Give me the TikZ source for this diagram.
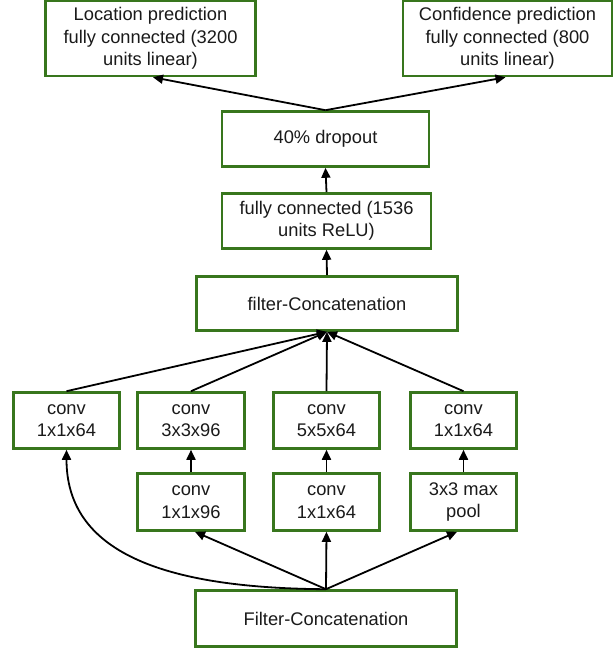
\documentclass[tikz,border=0pt]{standalone}
\usepackage{fontspec}
\setmainfont{Liberation Sans}
\usetikzlibrary{arrows.meta}
\definecolor{boxgreen}{HTML}{38761D}
\definecolor{txt}{HTML}{1A1A1A}
\begin{document}
\begin{tikzpicture}[x=1pt,y=-1pt,
  box/.style={draw=boxgreen, line width=2.6pt, fill=white, align=center, inner sep=0pt,
    text=txt, font=\fontsize{18.3}{22.5}\selectfont},
  arr/.style={line width=1.8pt, -{Triangle[length=10pt,width=9pt]}}]
\useasboundingbox (0,0) rectangle (615,649);
% nodes
\node[box, minimum width=210pt, minimum height=75pt] (loc) at (150.5,38.5) {Location prediction\\fully connected (3200\\units linear)};
\node[box, minimum width=209pt, minimum height=75pt] (conf) at (507.5,38.5) {Confidence prediction\\fully connected (800\\units linear)};
\node[box, minimum width=207pt, minimum height=55pt] (drop) at (325.5,139) {40\% dropout};
\node[box, minimum width=209pt, minimum height=55pt] (fc) at (326.5,221) {fully connected (1536\\units ReLU)};
\node[box, minimum width=261pt, minimum height=54pt] (fcat) at (327,303.5) {filter-Concatenation};
\node[box, minimum width=106pt, minimum height=56pt] (c1) at (66.5,420.5) {conv\\1x1x64};
\node[box, minimum width=107pt, minimum height=56pt] (c2) at (191,420.5) {conv\\3x3x96};
\node[box, minimum width=106pt, minimum height=56pt] (c3) at (326.5,420.5) {conv\\5x5x64};
\node[box, minimum width=106pt, minimum height=56pt] (c4) at (463.5,420.5) {conv\\1x1x64};
\node[box, minimum width=107pt, minimum height=57pt] (c2b) at (191,502) {conv\\1x1x96};
\node[box, minimum width=106pt, minimum height=57pt] (c3b) at (326.5,502) {conv\\1x1x64};
\node[box, minimum width=106pt, minimum height=57pt] (c4b) at (463.5,502) {3x3 max\\pool};
\node[box, minimum width=261pt, minimum height=56pt] (bot) at (326,618.5) {Filter-Concatenation};
% connectors
\draw[arr] (drop.north) -- ([xshift=2.5pt]loc.south);
\draw[arr] (drop.north) -- ([xshift=-2pt]conf.south);
\draw[arr] (fc.north) -- (drop.south);
\draw[arr] (fcat.north) -- (fc.south);
\draw[arr] (c1.north) -- (fcat.south);
\draw[arr] (c2.north) -- (fcat.south);
\draw[arr] (c3.north) -- (fcat.south);
\draw[arr] (c4.north) -- (fcat.south);
\draw[arr] (c2b.north) -- (c2.south);
\draw[arr] (c3b.north) -- (c3.south);
\draw[arr] (c4b.north) -- (c4.south);
\draw[arr] (bot.north) -- ([xshift=4pt]c2b.south);
\draw[arr] (bot.north) -- (c3b.south);
\draw[arr] (bot.north) -- ([xshift=-6.5pt]c4b.south);
\draw[arr] (bot.north) .. controls +(-166,-1) and +(0,101) .. (c1.south);
\end{tikzpicture}
\end{document}
